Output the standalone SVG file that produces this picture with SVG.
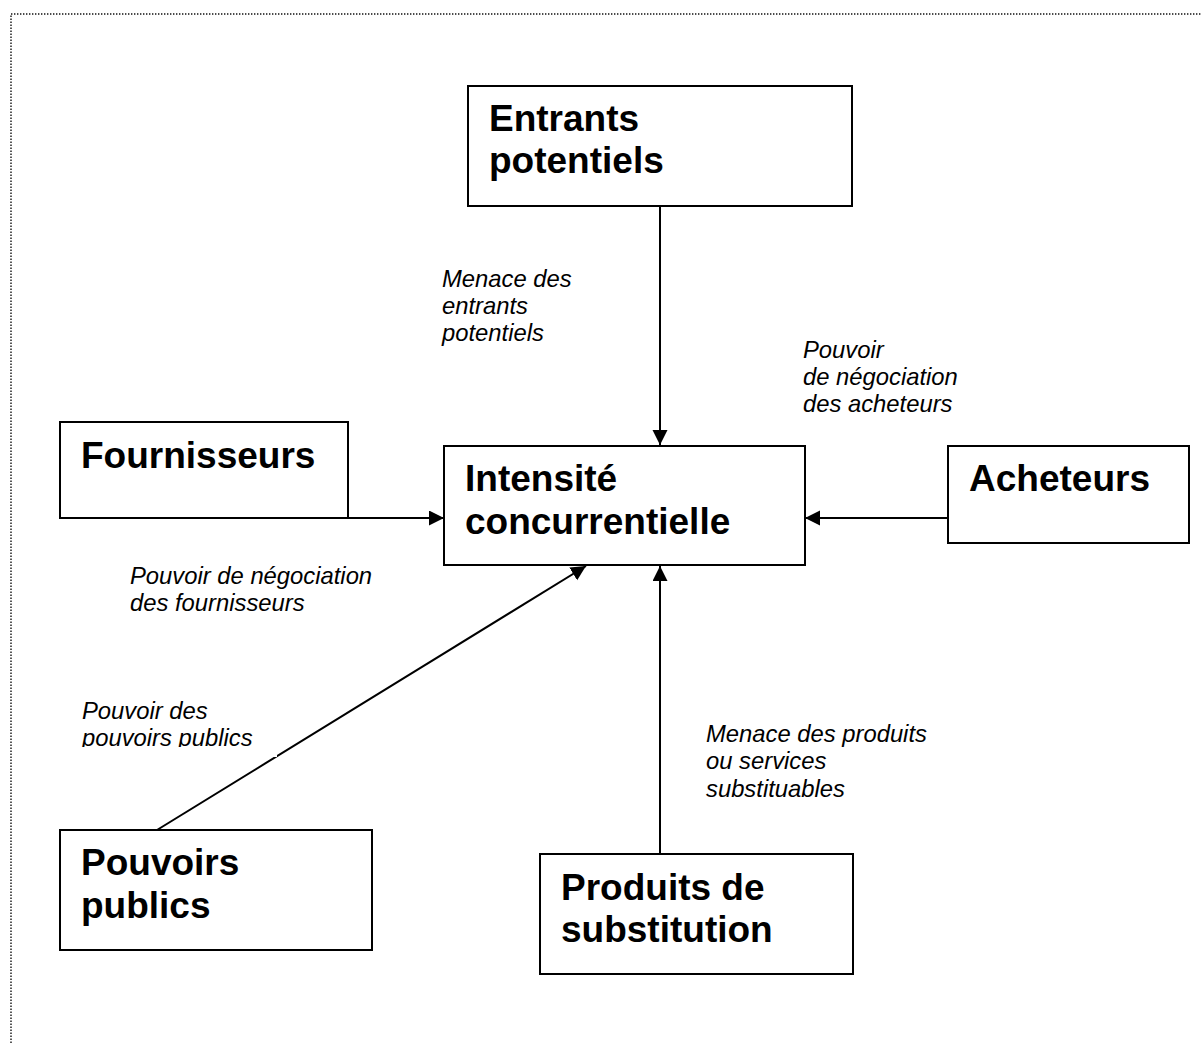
<svg xmlns="http://www.w3.org/2000/svg" width="1202" height="1043" viewBox="0 0 1202 1043">
<style>
.box{fill:#fff;stroke:#000;stroke-width:2}
.t{font-family:"Liberation Sans",Arial,sans-serif;font-weight:bold;font-size:37px;fill:#000}
.l{font-family:"Liberation Sans",Arial,sans-serif;font-style:italic;font-size:23.8px;fill:#000}
.c{stroke:#000;stroke-width:2;fill:none;marker-end:url(#ah)}
</style>
<defs>
<marker id="ah" markerUnits="userSpaceOnUse" markerWidth="16" markerHeight="16" refX="15" refY="7.5" orient="auto">
<path d="M0,0 L15,7.5 L0,15 Z" fill="#000"/>
</marker>
<clipPath id="clipPP"><rect x="60" y="690" width="230" height="57"/></clipPath>
</defs>
<rect x="11" y="14" width="1300" height="1100" fill="none" stroke="#111" stroke-width="1.4" stroke-dasharray="1.4,1.6"/>
<g id="connectors">
<line class="c" x1="660" y1="206" x2="660" y2="445"/>
<line class="c" x1="348" y1="518" x2="444" y2="518"/>
<line class="c" x1="948" y1="518" x2="805" y2="518"/>
<line class="c" x1="660" y1="854" x2="660" y2="566"/>
<line class="c" x1="157" y1="830" x2="586" y2="566"/>
</g>
<g id="entrants">
<rect class="box" x="468" y="86" width="384" height="120"/>
<text class="t" x="489" y="131">Entrants</text>
<text class="t" x="489" y="173">potentiels</text>
</g>
<g id="intensite">
<rect class="box" x="444" y="446" width="361" height="119"/>
<text class="t" x="465" y="491">Intensité</text>
<text class="t" x="465" y="534">concurrentielle</text>
</g>
<g id="fournisseurs">
<rect class="box" x="60" y="422" width="288" height="96"/>
<text class="t" x="81" y="468">Fournisseurs</text>
</g>
<g id="acheteurs">
<rect class="box" x="948" y="446" width="241" height="97"/>
<text class="t" x="969" y="491">Acheteurs</text>
</g>
<g id="pouvoirs">
<rect class="box" x="60" y="830" width="312" height="120"/>
<text class="t" x="81" y="875">Pouvoirs</text>
<text class="t" x="81" y="918">publics</text>
</g>
<g id="produits">
<rect class="box" x="540" y="854" width="313" height="120"/>
<text class="t" x="561" y="900">Produits de</text>
<text class="t" x="561" y="942">substitution</text>
</g>
<g id="labels">
<text class="l" x="442" y="287">Menace des</text>
<text class="l" x="442" y="314">entrants</text>
<text class="l" x="442" y="341">potentiels</text>
<text class="l" x="803" y="358">Pouvoir</text>
<text class="l" x="803" y="385">de négociation</text>
<text class="l" x="803" y="412">des acheteurs</text>
<text class="l" x="130" y="584">Pouvoir de négociation</text>
<text class="l" x="130" y="611">des fournisseurs</text>
<rect x="250" y="740" width="27" height="17" fill="#fff"/>
<text class="l" x="82" y="719">Pouvoir des</text>
<text class="l" x="82" y="746" clip-path="url(#clipPP)">pouvoirs publics</text>
<text class="l" x="706" y="742">Menace des produits</text>
<text class="l" x="706" y="769">ou services</text>
<text class="l" x="706" y="797">substituables</text>
</g>
</svg>
